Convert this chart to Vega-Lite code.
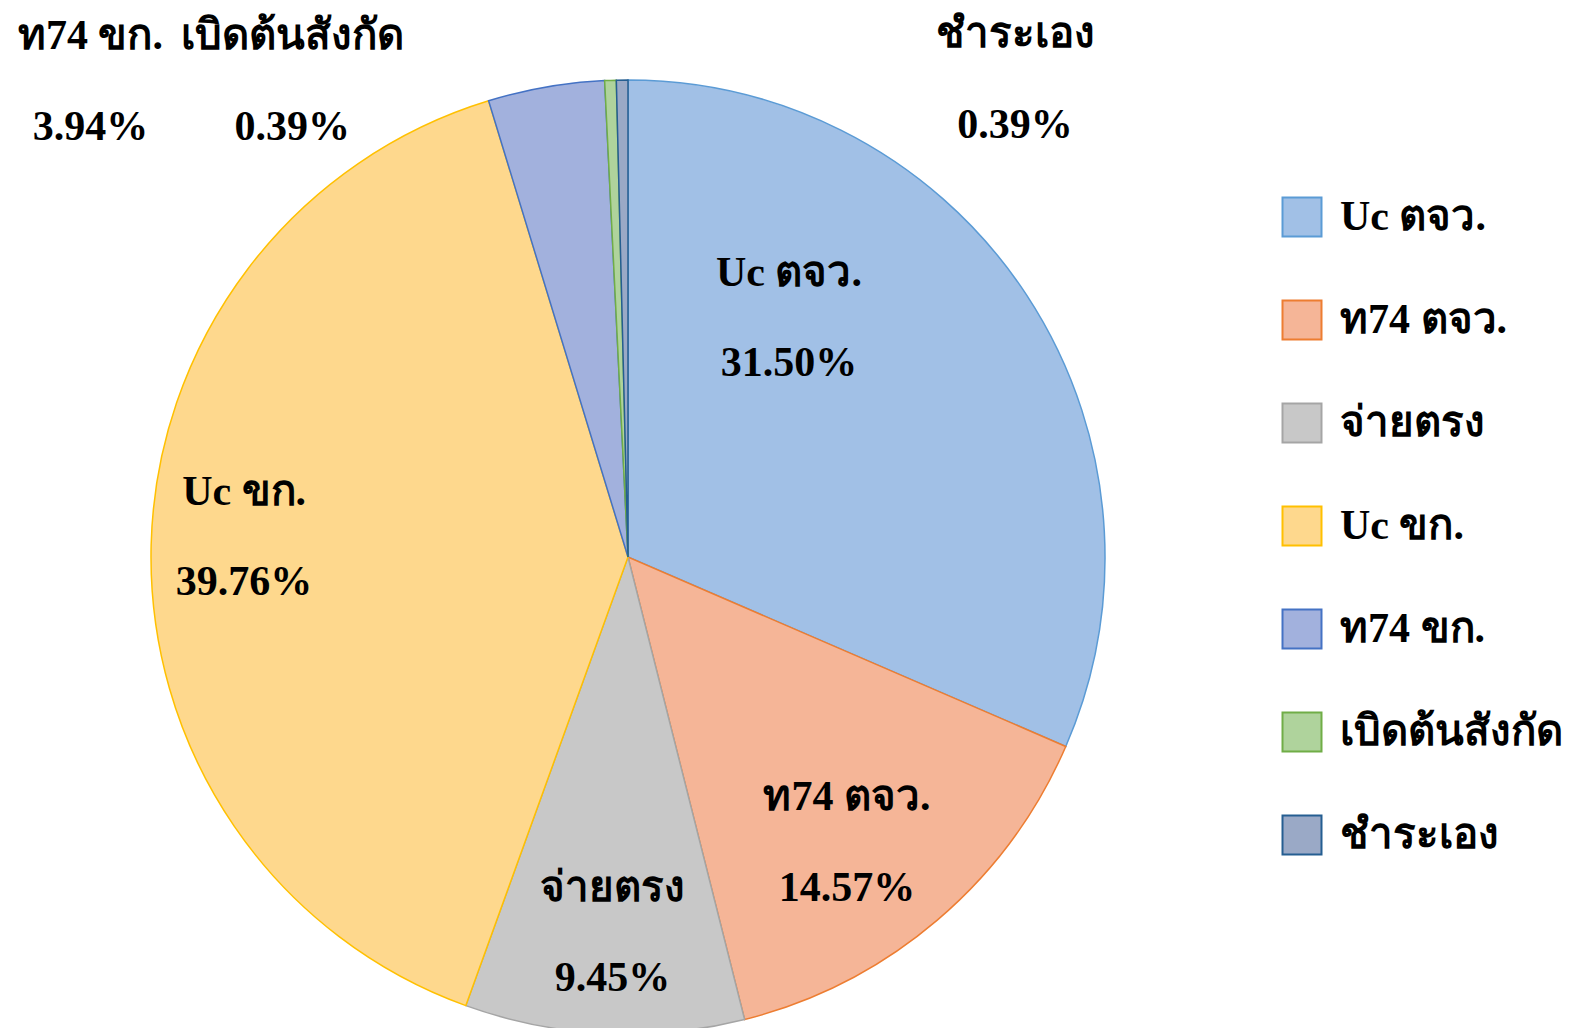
{
  "$schema": "https://vega.github.io/schema/vega-lite/v6.json",
  "width": 1256,
  "height": 1114,
  "autosize": "none",
  "padding": {"left": 0, "top": 0, "right": 323, "bottom": 0},
  "background": "white",
  "config": {"view": {"stroke": null}},
  "data": {
    "values": [
      {"cat": "Uc ตจว.", "pct": 31.50, "idx": 1},
      {"cat": "ท74 ตจว.", "pct": 14.57, "idx": 2},
      {"cat": "จ่ายตรง", "pct": 9.45, "idx": 3},
      {"cat": "Uc ขก.", "pct": 39.76, "idx": 4},
      {"cat": "ท74 ขก.", "pct": 3.94, "idx": 5},
      {"cat": "เบิดต้นสังกัด", "pct": 0.39, "idx": 6},
      {"cat": "ชำระเอง", "pct": 0.39, "idx": 7}
    ]
  },
  "transform": [
    {"calculate": "datum.cat + '\\n' + format(datum.pct, '.2f') + '%'", "as": "label"}
  ],
  "encoding": {
    "theta": {"field": "pct", "type": "quantitative", "stack": true},
    "order": {"field": "idx", "type": "quantitative"}
  },
  "layer": [
    {
      "mark": {"type": "arc", "outerRadius": 477, "strokeWidth": 1.5},
      "encoding": {
        "color": {
          "field": "cat", "type": "nominal", "sort": null,
          "scale": {
            "domain": ["Uc ตจว.", "ท74 ตจว.", "จ่ายตรง", "Uc ขก.", "ท74 ขก.", "เบิดต้นสังกัด", "ชำระเอง"],
            "range": ["#a1c0e6", "#f5b597", "#c8c8c8", "#fed88d", "#a2b1dd", "#afd39c", "#9aa9c6"]
          },
          "legend": {
            "title": null,
            "orient": "none",
            "legendX": 1281,
            "legendY": 196,
            "symbolType": "square",
            "symbolSize": 1521,
            "symbolStrokeWidth": 2,
            "symbolOpacity": 1,
            "labelFont": "Liberation Serif",
            "labelFontSize": 42,
            "labelFontWeight": "bold",
            "labelColor": "#000000",
            "labelOffset": 17,
            "labelLimit": 400,
            "rowPadding": 55
          }
        },
        "stroke": {
          "field": "cat", "type": "nominal", "sort": null,
          "scale": {
            "domain": ["Uc ตจว.", "ท74 ตจว.", "จ่ายตรง", "Uc ขก.", "ท74 ขก.", "เบิดต้นสังกัด", "ชำระเอง"],
            "range": ["#5b9bd5", "#ed7d31", "#a5a5a5", "#ffc000", "#4472c4", "#70ad47", "#255e91"]
          }
        }
      }
    },
    {
      "transform": [{"calculate": "datum.idx == 1 ? datum.label : ''", "as": "txt"}],
      "mark": {"type": "text", "radius": 372, "dx": -150, "dy": -80, "font": "Liberation Serif", "fontSize": 42, "fontWeight": "bold", "lineBreak": "\n", "lineHeight": 90.5, "align": "center", "baseline": "middle", "color": "#000000"},
      "encoding": {"text": {"field": "txt", "type": "nominal"}}
    },
    {
      "transform": [{"calculate": "datum.idx == 2 ? datum.label : ''", "as": "txt"}],
      "mark": {"type": "text", "radius": 372, "dx": -22, "dy": -43, "font": "Liberation Serif", "fontSize": 42, "fontWeight": "bold", "lineBreak": "\n", "lineHeight": 90.5, "align": "center", "baseline": "middle", "color": "#000000"},
      "encoding": {"text": {"field": "txt", "type": "nominal"}}
    },
    {
      "transform": [{"calculate": "datum.idx == 3 ? datum.label : ''", "as": "txt"}],
      "mark": {"type": "text", "radius": 372, "dx": 3, "dy": -41, "font": "Liberation Serif", "fontSize": 42, "fontWeight": "bold", "lineBreak": "\n", "lineHeight": 90.5, "align": "center", "baseline": "middle", "color": "#000000"},
      "encoding": {"text": {"field": "txt", "type": "nominal"}}
    },
    {
      "transform": [{"calculate": "datum.idx == 4 ? datum.label : ''", "as": "txt"}],
      "mark": {"type": "text", "radius": 372, "dx": -12, "dy": -56, "font": "Liberation Serif", "fontSize": 42, "fontWeight": "bold", "lineBreak": "\n", "lineHeight": 90.5, "align": "center", "baseline": "middle", "color": "#000000"},
      "encoding": {"text": {"field": "txt", "type": "nominal"}}
    },
    {
      "transform": [{"calculate": "datum.idx == 5 ? datum.label : ''", "as": "txt"}],
      "mark": {"type": "text", "radius": 480, "dx": -455, "dy": -48, "font": "Liberation Serif", "fontSize": 42, "fontWeight": "bold", "lineBreak": "\n", "lineHeight": 90.5, "align": "center", "baseline": "middle", "color": "#000000"},
      "encoding": {"text": {"field": "txt", "type": "nominal"}}
    },
    {
      "transform": [{"calculate": "datum.idx == 6 ? datum.label : ''", "as": "txt"}],
      "mark": {"type": "text", "radius": 480, "dx": -318, "dy": -41, "font": "Liberation Serif", "fontSize": 42, "fontWeight": "bold", "lineBreak": "\n", "lineHeight": 90.5, "align": "center", "baseline": "middle", "color": "#000000"},
      "encoding": {"text": {"field": "txt", "type": "nominal"}}
    },
    {
      "transform": [{"calculate": "datum.idx == 7 ? datum.label : ''", "as": "txt"}],
      "mark": {"type": "text", "radius": 480, "dx": 393, "dy": -43, "font": "Liberation Serif", "fontSize": 42, "fontWeight": "bold", "lineBreak": "\n", "lineHeight": 90.5, "align": "center", "baseline": "middle", "color": "#000000"},
      "encoding": {"text": {"field": "txt", "type": "nominal"}}
    }
  ]
}
